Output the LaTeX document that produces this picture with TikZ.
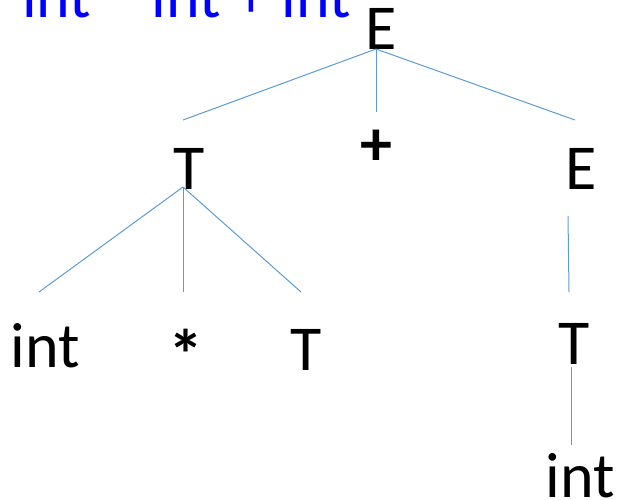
\documentclass[tikz,border=0pt]{standalone}
\usepackage{fontspec}
\setmainfont{Carlito}
\usepackage{tikz}
\usetikzlibrary{positioning,calc}
\newcommand{\treefont}{\fontsize{64}{77}\selectfont}
\definecolor{edgeblue}{RGB}{91,155,213}
\tikzstyle{every node}=[font=\treefont,inner sep=0pt,outer sep=0pt]
\tikzstyle{sym} = [anchor=base]
\tikzstyle{op} = [anchor=base,font=\treefont\bfseries]
\tikzstyle{edge} = [edgeblue,line width=1pt]
\begin{document}
\begin{tikzpicture}[x=1pt,y=-1pt]
\useasboundingbox (0,0) rectangle (617,499);
\clip (0,0) rectangle (617,499);

% sentence, cut by the top edge
\node[anchor=base west,text=blue] (sent) at (22,17) {int * int + int};

% tree
\node[sym] (E1) at (381,49) {E};
\node[sym] (T1) at (189,189) {T};
\node[op] (plus) at (376,165) {+};
\node[sym] (E2) at (581,189) {E};
\node[sym] (int1) at (45.5,367) {int};
\node[op,scale=1.1] (star) at (186,379) {*};
\node[sym] (T2) at (306.5,370) {T};
\node[sym] (T3) at (574.5,364) {T};
\node[sym] (int2) at (580.5,497) {int};

\draw[edge] ([shift={(-5,0)}]E1.base) -- ([shift={(-6,-69)}]T1.base);
\draw[edge] ([shift={(-5,0)}]E1.base) -- ([shift={(0,-53)}]plus.base);
\draw[edge] ([shift={(-5,0)}]E1.base) -- ([shift={(-6,-69)}]E2.base);
\draw[edge] ([shift={(-6,-2)}]T1.base) -- ([shift={(-6.5,-75)}]int1.base);
\draw[edge] ([shift={(-6,-2)}]T1.base) -- ([shift={(-3,-87)}]star.base);
\draw[edge] ([shift={(-6,-2)}]T1.base) -- ([shift={(-5.5,-78)}]T2.base);
\draw[edge] ([shift={(-13,27)}]E2.base) -- ([shift={(-5.5,-72)}]T3.base);
\draw[edge] ([shift={(-3.5,3)}]T3.base) -- ([shift={(-9.5,-52)}]int2.base);
\end{tikzpicture}
\end{document}
